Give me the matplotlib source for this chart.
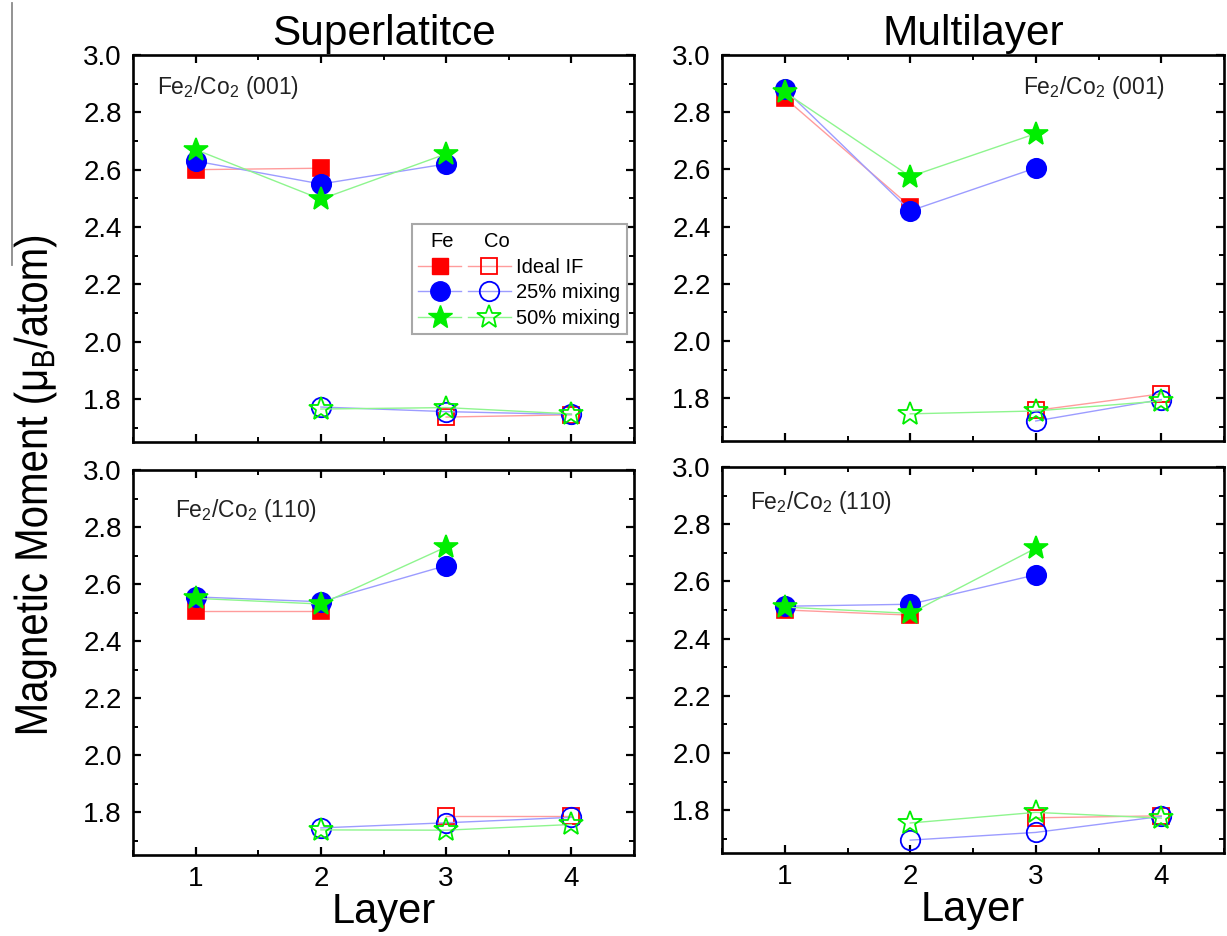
"""Momento magnético por capa: superred vs multicapa, Fe2/Co2 (001) y (110)."""
import matplotlib

matplotlib.use("Agg")
import matplotlib.pyplot as plt
import numpy as np
from matplotlib.font_manager import FontProperties
from matplotlib.legend_handler import HandlerTuple
from matplotlib.lines import Line2D
from matplotlib.patches import PathPatch
from matplotlib.textpath import TextPath
from matplotlib.ticker import MultipleLocator
from matplotlib.transforms import Affine2D

nan = np.nan
LAYERS = [1, 2, 3, 4]
SERIES_LABELS = ["Ideal IF", "25% mixing", "50% mixing"]

# Superlattice (001)
SL001_FE_IDEAL = [2.60, 2.605, nan, nan]
SL001_FE_25 = [2.63, 2.55, 2.62, nan]
SL001_FE_50 = [2.67, 2.497, 2.655, nan]
SL001_CO_IDEAL = [nan, nan, 1.737, 1.745]
SL001_CO_25 = [nan, 1.772, 1.756, 1.746]
SL001_CO_50 = [nan, 1.765, 1.77, 1.748]

# Multilayer (001)
ML001_FE_IDEAL = [2.85, 2.47, nan, nan]
ML001_FE_25 = [2.88, 2.455, 2.605, nan]
ML001_FE_50 = [2.87, 2.575, 2.725, nan]
ML001_CO_IDEAL = [nan, nan, 1.757, 1.815]
ML001_CO_25 = [nan, nan, 1.72, 1.795]
ML001_CO_50 = [nan, 1.745, 1.755, 1.79]

# Superlattice (110)
SL110_FE_IDEAL = [2.505, 2.505, nan, nan]
SL110_FE_25 = [2.555, 2.538, 2.665, nan]
SL110_FE_50 = [2.55, 2.53, 2.73, nan]
SL110_CO_IDEAL = [nan, nan, 1.788, 1.788]
SL110_CO_25 = [nan, 1.745, 1.763, 1.782]
SL110_CO_50 = [nan, 1.738, 1.737, 1.757]

# Multilayer (110)
ML110_FE_IDEAL = [2.50, 2.482, nan, nan]
ML110_FE_25 = [2.513, 2.52, 2.623, nan]
ML110_FE_50 = [2.51, 2.488, 2.716, nan]
ML110_CO_IDEAL = [nan, nan, 1.773, 1.78]
ML110_CO_25 = [nan, 1.695, 1.722, 1.778]
ML110_CO_50 = [nan, 1.755, 1.792, 1.772]

# (marker, color marcador, color línea, tamaño)
STYLES = [
    ("s", "#ff0000", "#ff9c9c", 12),
    ("o", "#0000ff", "#9c9cff", 14),
    ("*", "#00ee00", "#8ef58e", 18),
]

plt.rcParams["font.family"] = ["Liberation Sans", "DejaVu Sans"]
plt.rcParams["mathtext.fontset"] = "custom"
plt.rcParams["mathtext.rm"] = "Liberation Sans"
plt.rcParams["mathtext.it"] = "Liberation Sans"


def style_axes(ax, show_xlabels):
    """Ticks hacia dentro en los cuatro lados, marcos gruesos."""
    ax.set_xlim(0.5, 4.5)
    ax.set_ylim(1.65, 3.0)
    ax.xaxis.set_major_locator(MultipleLocator(1))
    ax.xaxis.set_minor_locator(MultipleLocator(0.5))
    ax.yaxis.set_major_locator(MultipleLocator(0.2))
    ax.yaxis.set_minor_locator(MultipleLocator(0.1))
    ax.tick_params(which="both", direction="in", top=True, right=True,
                   labelsize=20)
    ax.tick_params(which="major", length=6, width=1.6, pad=8)
    ax.tick_params(which="minor", length=3.5, width=1.4)
    ax.tick_params(axis="x", labelbottom=show_xlabels)
    for sp in ax.spines.values():
        sp.set_linewidth(1.9)
    if show_xlabels:
        ax.set_xlabel("Layer", fontsize=30, labelpad=0)


def plot_panel(ax, fe_series, co_series):
    """Dibuja Fe (relleno) y Co (hueco) para las tres configuraciones."""
    for values, (mk, c, lc, ms) in zip(fe_series, STYLES):
        ax.plot(LAYERS, values, color=lc, lw=1.0, marker=mk, ms=ms,
                mfc=c, mec=c, mew=1.2)
    for values, (mk, c, lc, ms) in zip(co_series, STYLES):
        ax.plot(LAYERS, values, color=lc, lw=1.0, marker=mk, ms=ms,
                mfc="none", mec=c, mew=1.3)


def add_legend(ax):
    handles = []
    for mk, c, lc, ms in STYLES:
        fe = Line2D([], [], color=lc, lw=1.0, marker=mk, ms=ms, mfc=c, mec=c)
        co = Line2D([], [], color=lc, lw=1.0, marker=mk, ms=ms, mfc="none",
                    mec=c, mew=1.3)
        handles.append((fe, co))
    leg = ax.legend(
        handles, SERIES_LABELS,
        handler_map={tuple: HandlerTuple(ndivide=None, pad=0.33)},
        loc="upper left", bbox_to_anchor=(0.557, 0.563), borderaxespad=0,
        handlelength=4.6, handletextpad=0.28, fontsize=14.5, title=" ",
        title_fontsize=15.5, fancybox=False, edgecolor="#a8a8a8",
        framealpha=1, labelspacing=0.33, borderpad=0.3, numpoints=1,
    )
    leg.get_frame().set_linewidth(1.5)
    ax.text(0.618, 0.518, "Fe", transform=ax.transAxes, ha="center",
            va="center", fontsize=14.5, zorder=10)
    ax.text(0.726, 0.518, "Co", transform=ax.transAxes, ha="center",
            va="center", fontsize=14.5, zorder=10)


def label(ax, x, y, plane):
    ax.text(x, y, r"$\mathregular{Fe_2/Co_2}$ " + plane, transform=ax.transAxes,
            ha="left", va="center", fontsize=16.5, color="#222222")


def narrow_ylabel(fig, text, cx, cy, em_px, squeeze):
    """Etiqueta vertical con letra estrecha (la fuente narrow no está)."""
    tp = TextPath((0, 0), text, size=em_px,
                  prop=FontProperties(family="Liberation Sans"))
    bb = tp.get_extents()
    tr = (Affine2D()
          .translate(-(bb.x0 + bb.x1) / 2, -(bb.y0 + bb.y1) / 2)
          .scale(squeeze, 1)
          .rotate_deg(90)
          .translate(cx, cy))
    fig.add_artist(PathPatch(tp, transform=tr, facecolor="black", lw=0))


def main():
    fig = plt.figure(figsize=(12.27, 9.36), dpi=100)
    W, H = 1227, 936

    def axes_px(x0, x1, y0, y1):
        return fig.add_axes([x0 / W, 1 - y1 / H, (x1 - x0) / W, (y1 - y0) / H])

    ax_tl = axes_px(133, 634, 55, 442)
    ax_tr = axes_px(722, 1224, 55, 441)
    ax_bl = axes_px(133, 634, 470, 855)
    ax_br = axes_px(722, 1224, 467, 853)

    plot_panel(ax_tl, [SL001_FE_IDEAL, SL001_FE_25, SL001_FE_50],
               [SL001_CO_IDEAL, SL001_CO_25, SL001_CO_50])
    plot_panel(ax_tr, [ML001_FE_IDEAL, ML001_FE_25, ML001_FE_50],
               [ML001_CO_IDEAL, ML001_CO_25, ML001_CO_50])
    plot_panel(ax_bl, [SL110_FE_IDEAL, SL110_FE_25, SL110_FE_50],
               [SL110_CO_IDEAL, SL110_CO_25, SL110_CO_50])
    plot_panel(ax_br, [ML110_FE_IDEAL, ML110_FE_25, ML110_FE_50],
               [ML110_CO_IDEAL, ML110_CO_25, ML110_CO_50])

    style_axes(ax_tl, False)
    style_axes(ax_tr, False)
    style_axes(ax_bl, True)
    style_axes(ax_br, True)

    ax_tl.set_title("Superlatitce", fontsize=30.5, pad=7)
    ax_tr.set_title("Multilayer", fontsize=30.5, pad=7)

    label(ax_tl, 0.048, 0.915, "(001)")
    label(ax_tr, 0.600, 0.915, "(001)")
    label(ax_bl, 0.084, 0.896, "(110)")
    label(ax_br, 0.056, 0.907, "(110)")

    add_legend(ax_tl)

    narrow_ylabel(fig, r"Magnetic Moment (μ$_\mathregular{B}$/atom)",
                  cx=35, cy=H - 485, em_px=46, squeeze=0.875)
    # raya gris del recorte original
    fig.add_artist(Line2D([12 / W, 12 / W], [1 - 3 / H, 1 - 265 / H],
                          color="#8a8a8a", lw=1.3))

    fig.savefig("out.png", dpi=100)
    plt.close(fig)


if __name__ == "__main__":
    main()
